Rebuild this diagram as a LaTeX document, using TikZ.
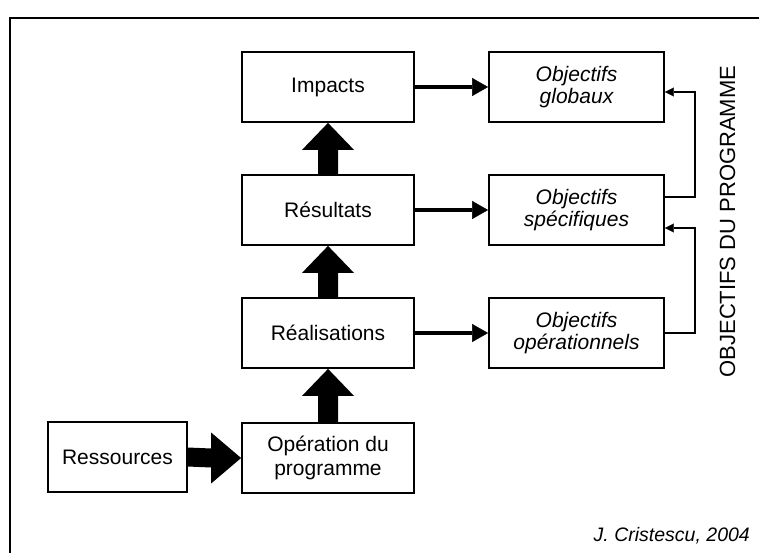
\documentclass[tikz,border=0pt]{standalone}
\usepackage{fontspec}
\setmainfont{Liberation Sans}
\usetikzlibrary{arrows.meta,calc}
\begin{document}
\begin{tikzpicture}[x=1pt,y=-1pt,
  box/.style={draw,line width=1.8pt,minimum width=172pt,minimum height=70pt,inner sep=0pt,align=center,font=\fontsize{21}{24}\selectfont},
  obj/.style={box,minimum width=175pt,font=\fontsize{21}{22}\selectfont\itshape},
  fatarrow/.style={fill=black},
  thinarrow/.style={line width=4pt,-{Triangle[length=16pt,width=18pt,line width=0.4pt]}},
  conn/.style={line width=1.5pt,-{Triangle[length=9pt,width=9pt,line width=0.4pt]}},
]
\useasboundingbox (0,0) rectangle (759,552);
\clip (0,0) rectangle (759,552);
\draw[line width=2pt] (10,18) rectangle (800,600);

\node[box] (imp) at (328,87) {Impacts};
\node[box] (res) at (328,210) {Résultats};
\node[box] (rea) at (328,333) {Réalisations};
\node[box] (ope) at (328,458) {Opération du\\programme};
\node[box,minimum width=139pt] (ress) at (117.5,457) {Ressources};

\node[obj] (glob) at (576.5,87) {Objectifs\\globaux};
\node[obj] (spec) at (576.5,210) {Objectifs\\spécifiques};
\node[obj] (oper) at (576.5,333) {Objectifs\\opérationnels};

% fat up arrows
\foreach \a/\b in {res/imp, rea/res, ope/rea}{
  \fill[fatarrow] ($(\a.north)+(-10,0)$) -- ($(\b.south)+(-10,27)$) -- ($(\b.south)+(-26,27)$)
    -- (\b.south) -- ($(\b.south)+(26,27)$) -- ($(\b.south)+(10,27)$) -- ($(\a.north)+(10,0)$) -- cycle;
}
% fat right arrow
\fill[fatarrow] ($(ress.east)+(0,-9.5)$) -- ($(ope.west)+(-30,-9.5)$) -- ($(ope.west)+(-30,-25.5)$)
  -- (ope.west) -- ($(ope.west)+(-30,25.5)$) -- ($(ope.west)+(-30,9.5)$) -- ($(ress.east)+(0,9.5)$) -- cycle;

% thin arrows
\draw[thinarrow] (imp.east) -- (glob.west);
\draw[thinarrow] (res.east) -- (spec.west);
\draw[thinarrow] (rea.east) -- (oper.west);

% right connectors
\draw[conn] ($(spec.east)+(0,-13)$) -- ++(30,0) |- ($(glob.east)+(0,5)$);
\draw[conn] (oper.east) -- ++(30,0) |- ($(spec.east)+(0,18)$);

\node[rotate=90,anchor=base,inner sep=0pt,font=\fontsize{22}{26}\selectfont] (title) at (735,221.5) {OBJECTIFS DU PROGRAMME};
\node[anchor=base east,inner sep=0pt,font=\fontsize{19.5}{22}\selectfont\itshape] (author) at (750,541) {J. Cristescu, 2004};
\end{tikzpicture}
\end{document}
